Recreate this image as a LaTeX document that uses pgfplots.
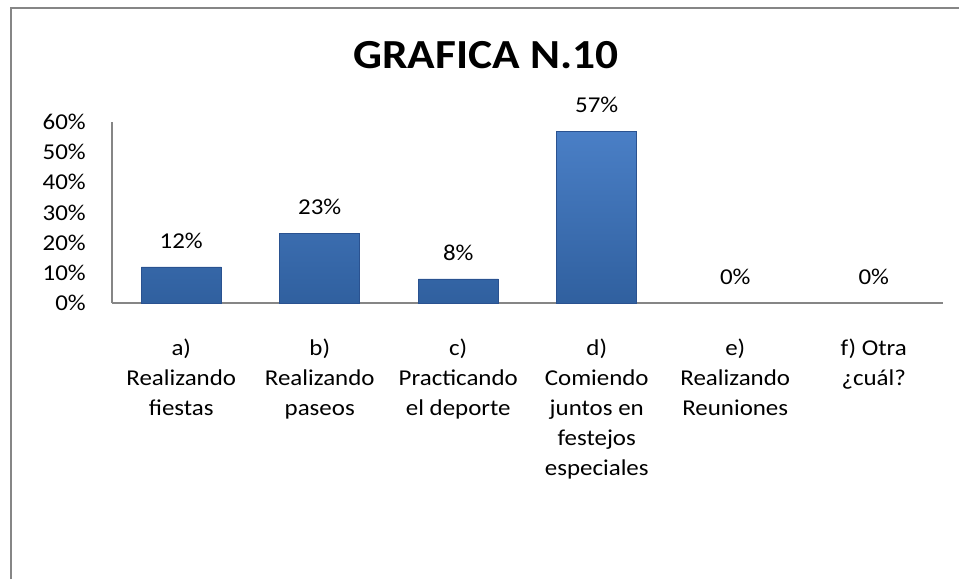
\documentclass[border=0pt]{standalone}
\usepackage{fontspec}
\setmainfont{Carlito}[FakeStretch=1.1]
\usepackage{pgfplots}
\pgfplotsset{compat=1.18}
\definecolor{barTop}{HTML}{4A7FC6}
\definecolor{barBot}{HTML}{30609F}
\definecolor{barEdge}{HTML}{2A5290}
\definecolor{axGray}{HTML}{868686}
\begin{document}
\begin{tikzpicture}[x=0.75pt,y=0.75pt]
\useasboundingbox (0,0) rectangle (959,579);
\draw[axGray, line width=1.5pt] (11,0) -- (11,570.5) -- (959,570.5);
\node[anchor=base, font=\fontsize{31}{36}\selectfont\bfseries] at (486,510) {GRAFICA N.10};
\begin{axis}[
  at={(112*0.75pt,276*0.75pt)}, anchor=south west,
  scale only axis, width=831*0.75pt, height=181*0.75pt,
  xmin=-0.5, xmax=5.5, ymin=0, ymax=60,
  axis x line=bottom, axis y line=left,
  axis line style={axGray, line width=1.5pt, -},
  xtick={0,1,2,3,4,5},
  xticklabels={{a)\\Realizando\\fiestas},{b)\\Realizando\\paseos},{c)\\Practicando\\el deporte},{d)\\Comiendo\\juntos en\\festejos\\especiales},{e)\\Realizando\\Reuniones},{f) Otra\\¿cuál?}},
  ytick={0,10,20,30,40,50,60},
  yticklabel={\pgfmathprintnumber{\tick}\%},
  /pgf/number format/assume math mode=true,
  major tick length=0pt,
  tick label style={font=\fontsize{17}{22.4}\selectfont, inner sep=0pt},
  xticklabel style={align=center, yshift=-27pt},
  yticklabel style={xshift=-19.5pt},
  ybar, bar width=60pt, bar shift=0pt,
  nodes near coords={\pgfmathprintnumber{\pgfplotspointmeta}\%},
  every node near coord/.append style={font=\fontsize{17}{22}\selectfont, anchor=base, yshift=14pt, inner sep=0pt, black},
]
\addplot[draw=barEdge, shading=axis, top color=barTop, bottom color=barBot, line width=0.4pt] coordinates {(0,12) (1,23) (2,8) (3,57)};
\addplot[draw=none, fill=none] coordinates {(4,0) (5,0)};
\end{axis}
\end{tikzpicture}
\end{document}
